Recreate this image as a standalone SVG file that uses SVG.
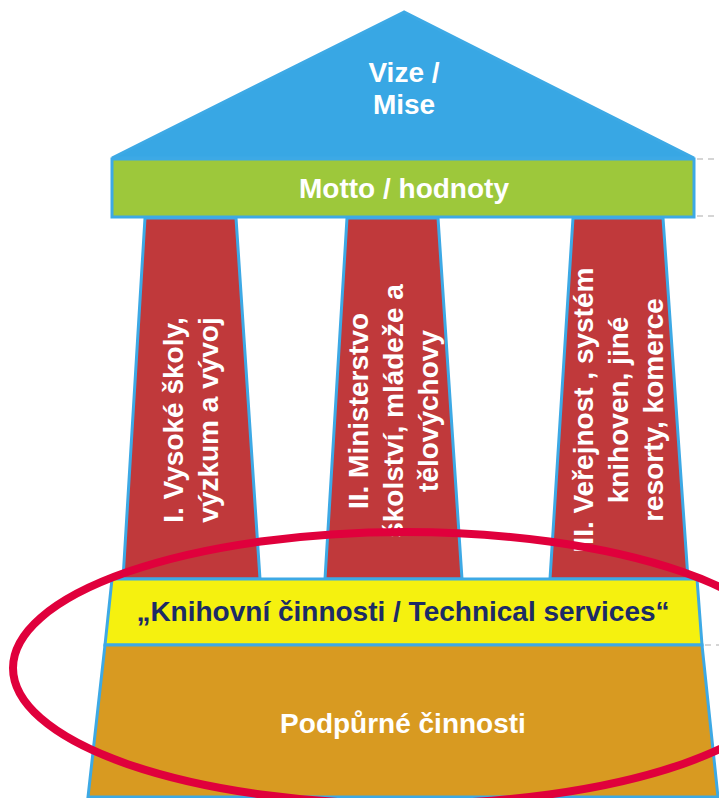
<svg xmlns="http://www.w3.org/2000/svg" width="719" height="798" viewBox="0 0 719 798">
<style>
.sh{stroke:#3DA9E5;stroke-width:3;stroke-linejoin:miter}
.t{font-family:"Liberation Sans",Arial,sans-serif;font-weight:bold;font-size:28px;fill:#ffffff;text-anchor:middle}
.dash{stroke:#C8C8C8;stroke-width:1.5;stroke-dasharray:6 5;fill:none}
</style>
<rect width="719" height="798" fill="#ffffff"/>
<g id="guides">
<line class="dash" x1="697" y1="159" x2="719" y2="159"/>
<line class="dash" x1="697" y1="216" x2="719" y2="216"/>
<line class="dash" x1="705" y1="645" x2="719" y2="645"/>
</g>
<g id="roof">
<polygon class="sh" points="404,12 112,158 694,158" fill="#38A7E4"/>
<text class="t" x="404" y="82">Vize /</text>
<text class="t" x="404" y="114">Mise</text>
</g>
<g id="motto">
<rect class="sh" x="112" y="159" width="582" height="58" fill="#9DC83B"/>
<text class="t" x="404" y="198">Motto / hodnoty</text>
</g>
<g id="pillar1">
<polygon class="sh" points="145,218 236,218 260,579 123,579" fill="#C0393B"/>
<text class="t" transform="translate(190,420) rotate(-90)"><tspan x="0" y="-7.5">I. Vysoké školy,</tspan><tspan x="0" y="27.5">výzkum a vývoj</tspan></text>
</g>
<g id="pillar2">
<polygon class="sh" points="347,218 438,218 462,579 325,579" fill="#C0393B"/>
<text class="t" transform="translate(393,411) rotate(-90)"><tspan x="0" y="-25">II. Ministerstvo</tspan><tspan x="0" y="10">školství, mládeže a</tspan><tspan x="0" y="45">tělovýchovy</tspan></text>
</g>
<g id="pillar3">
<polygon class="sh" points="573,218 663,218 688,579 550,579" fill="#C0393B"/>
<text class="t" transform="translate(618,410) rotate(-90)"><tspan x="0" y="-25">III. Veřejnost , systém</tspan><tspan x="0" y="10">knihoven, jiné</tspan><tspan x="0" y="45">resorty, komerce</tspan></text>
</g>
<g id="technical">
<polygon class="sh" points="112,579 697,579 702,645 105,645" fill="#F5F10F"/>
<text class="t" x="403" y="621" style="fill:#1C2B66">„Knihovní činnosti / Technical services“</text>
</g>
<g id="support">
<polygon class="sh" points="105,645 702,645 718,797 88,797" fill="#D89A21"/>
<text class="t" x="403" y="733">Podpůrné činnosti</text>
</g>
<g id="highlight">
<ellipse cx="405" cy="668" rx="392" ry="136" fill="none" stroke="#E0003C" stroke-width="8"/>
</g>
</svg>
